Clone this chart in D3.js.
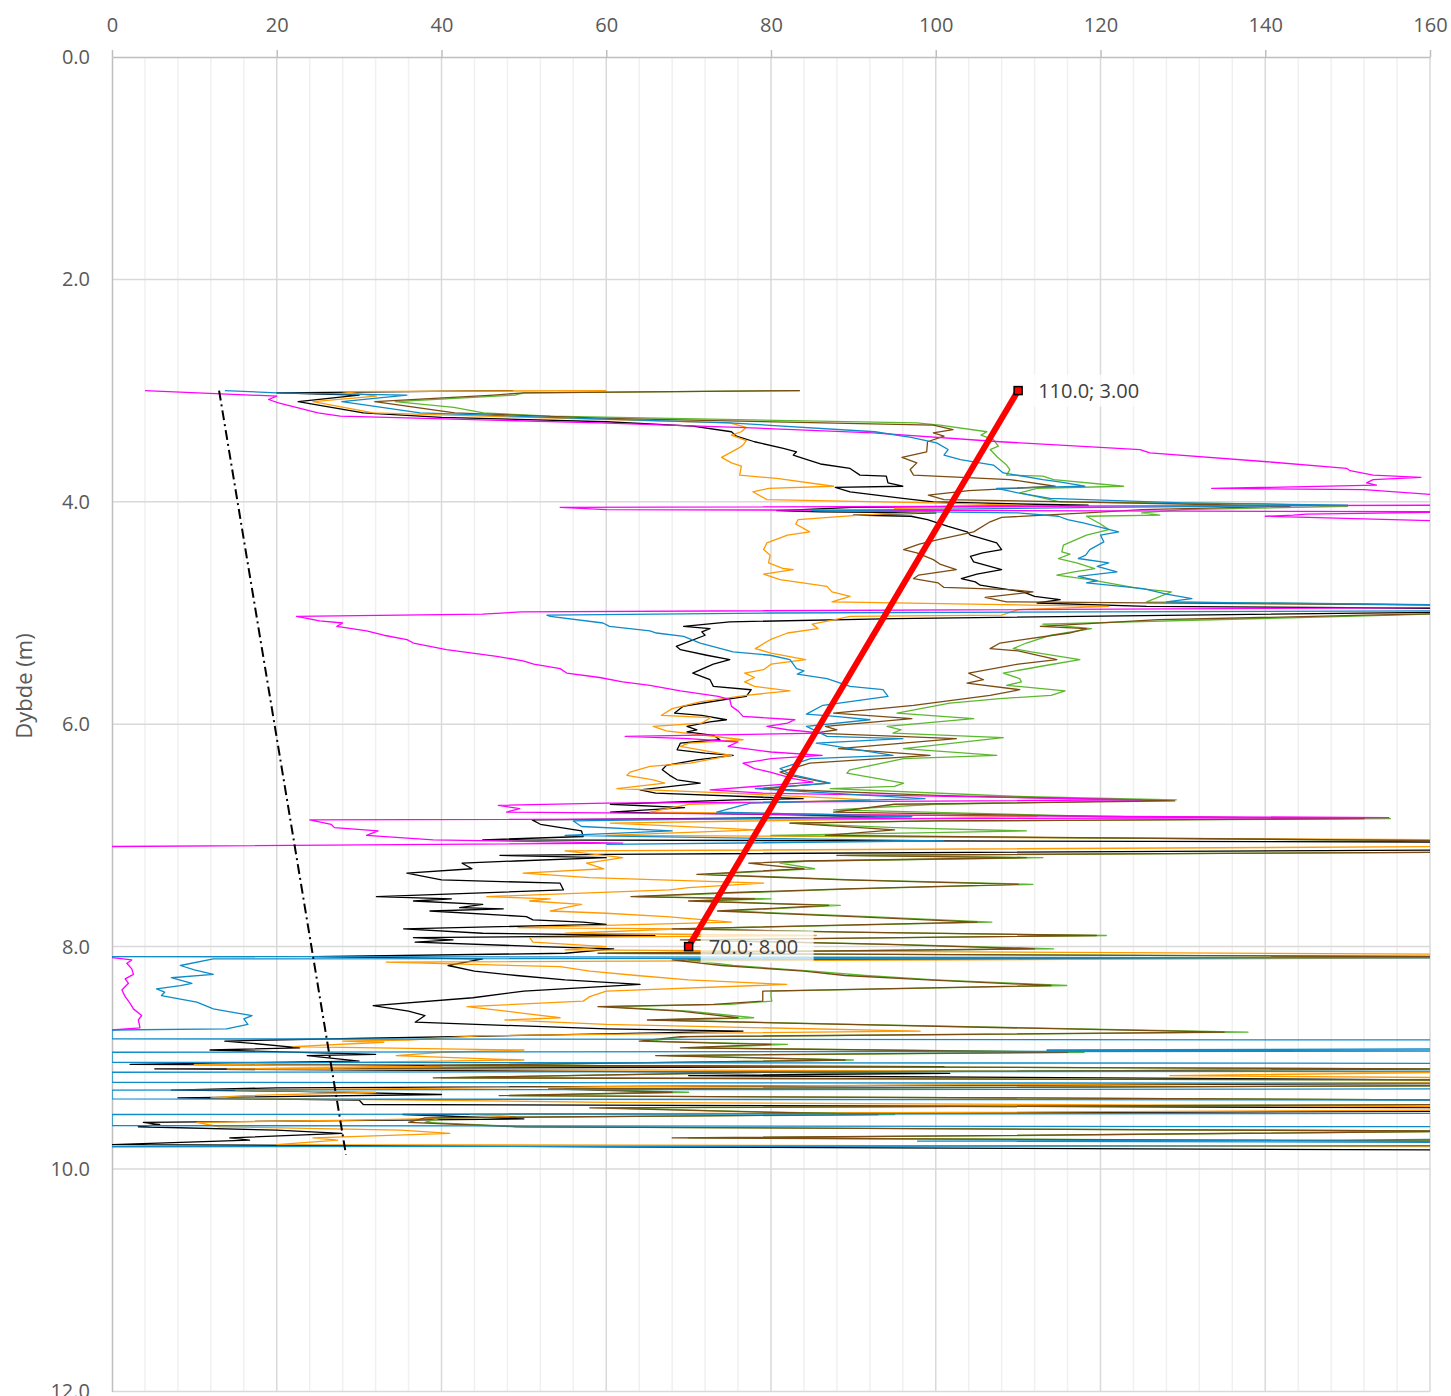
<!DOCTYPE html>
<html><head><meta charset="utf-8">
<script src="https://cdn.jsdelivr.net/npm/d3@7"></script>
<style>body{margin:0;background:#fff;} svg{display:block;font-family:"Open Sans",sans-serif;}</style>
</head><body><svg id="chart" width="1451" height="1396"></svg>
<script>
// ---- tick values ----
const xTicks = [0,20,40,60,80,100,120,140,160];
const yTicks = [0,2,4,6,8,10,12];
const yTitle = "Dybde (m)";

// ---- series: [depth (m), value] ; null = gap ----
const seriesBlack = [[3.00,48.7],[3.02,20],[3.04,30],[3.10,22.6],[3.20,30.5],[3.24,40],[3.28,60],[3.32,70.5],[3.37,75.2],[3.41,75.8],[3.46,78],[3.52,81.5],[3.55,83.1],[3.58,82.7],[3.61,83.9],[3.66,86],[3.70,89.6],[3.76,90.8],[3.77,94],[3.83,94.2],[3.86,96.0],[3.87,87.8],[3.91,89.6],[3.97,96],[4.00,99.7],[4.02,110],[4.03,118.5],[4.05,90],[4.08,80.7],[4.09,86],[4.10,100],[4.12,90],[4.13,97],[4.16,99],[4.22,101.5],[4.27,103.8],[4.30,104.2],[4.37,107.4],[4.43,108],[4.46,105.7],[4.49,104.2],[4.54,104.6],[4.61,108],[4.65,105],[4.69,103.1],[4.72,104.8],[4.75,105.4],[4.81,110.6],[4.85,112],[4.88,115.1],[4.91,112.3],[4.94,125.6],[4.96,165],[4.99,165],[5.05,95],[5.08,75],[5.12,69.4],[5.14,72.6],[5.17,71.6],[5.20,72],[5.30,68.5],[5.33,69],[5.38,72.2],[5.42,75.0],[5.46,73],[5.54,70.5],[5.60,72.6],[5.66,73],[5.69,77.6],[5.75,77],[5.78,74.2],[5.84,69.3],[5.90,68.3],[5.92,71.6],[5.96,74.6],[5.98,72.6],[6.02,69.8],[6.05,71],[6.07,69.8],[6.10,73],[6.14,73.8],[6.16,70.5],[6.17,69],[6.23,68.6],[6.26,72],[6.28,75.4],[6.32,71],[6.37,67.3],[6.41,66.8],[6.46,67.7],[6.50,68.6],[6.53,71.4],[6.59,64.1],[6.62,66],[6.67,83.9],[6.68,75.8],[6.72,60.5],[6.75,69.5],[6.79,60.5],[6.83,97],[6.86,51],[6.90,52],[6.96,57],[7.01,57.2],[7.04,45],[7.06,165],[7.13,165],[7.17,60],[7.18,47.1],[7.20,60],[7.23,49],[7.25,42.5],[7.30,43.7],[7.34,35.8],[7.40,40],[7.43,54.4],[7.49,54.8],[7.55,32.1],[7.57,41.2],[7.59,36.6],[7.62,45],[7.65,42.2],[7.66,47.5],[7.68,38.6],[7.73,50.3],[7.76,51.1],[7.78,57.2],[7.80,60],[7.84,35.4],[7.88,45],[7.90,65.9],[7.92,36.6],[7.94,41.4],[7.96,36.8],[8.00,52],[8.02,60.9],[8.06,55],[8.09,24.4],[8.11,45],[8.17,40.8],[8.22,44],[8.26,49.1],[8.30,55],[8.34,64.1],[8.40,50],[8.46,43.8],[8.53,31.7],[8.58,36],[8.62,38],[8.68,36.8],[8.74,60],[8.76,76.6],[8.79,56.6],[8.84,19],[8.85,13.7],[8.87,17],[8.91,22.8],[8.93,11.9],[8.97,32],[8.98,23.7],[9.03,30],[9.06,2.2],[9.08,101],[9.10,5.2],[9.14,101.7],[9.16,70],[9.20,165],[9.23,165],[9.27,20],[9.29,7.2],[9.30,21.2],[9.33,40],[9.36,8.0],[9.38,30],[9.42,30.5],[9.45,165],[9.48,165],[9.51,35.3],[9.55,50],[9.58,3.8],[9.60,5.8],[9.62,3.2],[9.65,20],[9.68,27.9],[9.72,14.3],[9.74,16.7],[9.78,0],[9.80,60],[9.83,165],[9.85,165]];

const seriesOrange = [[3.00,60],[3.01,28],[3.05,32.1],[3.10,24.4],[3.20,31.7],[3.25,55],[3.29,75],[3.33,77],[3.37,76.4],[3.40,75.2],[3.45,77],[3.49,76.6],[3.52,76],[3.60,74],[3.65,75.2],[3.68,76.4],[3.76,76.2],[3.79,80.7],[3.86,87.6],[3.88,79.7],[3.91,77.8],[3.98,79.5],[4.01,99.7],[4.04,115],[4.06,95],[4.09,100],[4.12,90.8],[4.16,83.3],[4.20,83],[4.27,84.7],[4.30,82],[4.37,79.5],[4.43,79.1],[4.48,79.9],[4.55,79.7],[4.60,81.5],[4.61,82.7],[4.65,79.1],[4.70,81.1],[4.76,86.8],[4.81,87.4],[4.85,89.6],[4.90,87.4],[4.94,121],[4.97,110],[5.02,108],[5.03,89.6],[5.07,87],[5.10,85],[5.14,85.7],[5.18,82],[5.24,79.9],[5.32,78.1],[5.36,80],[5.42,84.2],[5.46,80],[5.51,79.1],[5.54,76.8],[5.58,78],[5.62,76.8],[5.66,78],[5.70,82.3],[5.74,77],[5.80,71.4],[5.86,68],[5.92,66.7],[5.94,72.7],[5.99,71.6],[6.02,65.7],[6.06,67.3],[6.14,76.6],[6.17,70],[6.20,69],[6.28,75.2],[6.35,70.2],[6.38,65.3],[6.43,62.9],[6.46,62.5],[6.50,65.7],[6.53,67.1],[6.58,61.3],[6.62,75],[6.68,92],[6.72,70],[6.79,65.3],[6.83,112.3],[6.89,60.5],[6.95,78.3],[7.00,60],[7.04,165],[7.10,165],[7.14,55],[7.20,62],[7.25,57.6],[7.30,59.7],[7.34,49.9],[7.38,58],[7.43,79.1],[7.47,70],[7.49,67.7],[7.55,45.5],[7.57,53.2],[7.59,50.7],[7.62,57],[7.65,55],[7.68,53.2],[7.70,60],[7.73,67.3],[7.78,75.2],[7.83,49.3],[7.84,69.2],[7.88,55],[7.90,85.5],[7.92,50.7],[7.96,51.1],[8.00,60],[8.03,55],[8.07,165],[8.10,165],[8.14,33.3],[8.18,54.4],[8.22,58],[8.26,63.7],[8.30,70],[8.34,81.9],[8.40,60],[8.45,58],[8.49,57.2],[8.54,43.1],[8.60,50],[8.64,54.4],[8.66,47.7],[8.70,60],[8.76,98.1],[8.80,45],[8.84,36],[8.85,28],[8.86,33],[8.90,22],[8.93,50],[8.95,40],[8.98,34.5],[9.02,50],[9.06,10],[9.08,40],[9.10,14],[9.13,165],[9.16,128.4],[9.18,165],[9.22,165],[9.26,60],[9.29,15],[9.31,32],[9.34,16],[9.36,12],[9.40,60],[9.44,165],[9.47,165],[9.51,43.5],[9.53,49],[9.56,30],[9.58,10.3],[9.62,13],[9.65,35],[9.68,41],[9.72,24.4],[9.74,27.4],[9.78,20],[9.80,165],[9.85,165]];

const seriesGreen = [[3.00,83.5],[3.02,50],[3.04,48.9],[3.10,34.4],[3.15,41.5],[3.20,45.1],[3.23,53.2],[3.29,97.7],[3.31,100.5],[3.37,106.2],[3.40,105.5],[3.44,107],[3.50,107.6],[3.53,106.6],[3.60,107.5],[3.67,108.6],[3.71,109],[3.76,108.6],[3.77,113],[3.80,114.3],[3.86,122.8],[3.88,112.3],[3.92,110.2],[4.00,115.1],[4.02,140],[4.04,150],[4.07,130],[4.10,125],[4.12,127.2],[4.13,118.3],[4.20,120],[4.25,121],[4.30,118.3],[4.39,115.5],[4.45,115.3],[4.47,116.3],[4.51,114.9],[4.55,117.1],[4.60,119.3],[4.63,116.8],[4.66,114.7],[4.70,118.7],[4.78,124.8],[4.81,128.6],[4.90,125.6],[4.93,165],[5.00,165],[5.03,150],[5.10,113],[5.14,118.9],[5.20,114],[5.27,111],[5.32,109.4],[5.35,111.6],[5.42,117.5],[5.47,113.5],[5.54,108.2],[5.59,110.2],[5.62,110.4],[5.65,108.6],[5.70,115.7],[5.74,114],[5.77,107.8],[5.81,101.7],[5.90,95.3],[5.95,104.6],[6.02,94.1],[6.05,95.8],[6.08,94.8],[6.12,108.2],[6.22,96.1],[6.28,107.4],[6.31,96.1],[6.41,89.6],[6.44,89.2],[6.53,96.1],[6.56,95],[6.58,87.2],[6.65,110],[6.68,129.2],[6.72,100],[6.77,87.6],[6.83,120],[6.85,155.2],[6.87,100],[6.89,82.3],[6.93,95],[6.96,111],[7.00,80],[7.05,165],[7.15,165],[7.18,89],[7.20,113],[7.23,85],[7.25,81.1],[7.30,85.3],[7.35,72.2],[7.40,90],[7.44,111.8],[7.48,90],[7.52,75],[7.55,63.7],[7.57,80],[7.59,71],[7.63,88.4],[7.68,74.6],[7.73,92],[7.78,106.8],[7.84,69],[7.87,90],[7.90,120.7],[7.94,70],[7.98,95],[8.02,114.3],[8.06,60],[8.09,165],[8.12,70],[8.17,75.4],[8.22,85],[8.26,91.4],[8.30,100],[8.35,115.9],[8.40,80],[8.45,80],[8.49,80.1],[8.52,75],[8.54,60],[8.58,70],[8.64,77.9],[8.66,66.1],[8.70,90],[8.77,137.9],[8.81,70],[8.85,65],[8.88,82],[8.91,70],[8.95,118],[8.98,67.5],[9.02,90],[9.07,40],[9.10,165],[9.13,80],[9.18,40],[9.20,165],[9.25,165],[9.28,55],[9.31,70],[9.34,48],[9.38,165],[9.42,165],[9.45,60],[9.48,75],[9.51,95],[9.54,40],[9.58,38],[9.62,50],[9.66,165],[9.70,108],[9.72,70],[9.75,165],[9.80,165],[9.83,165]];

const seriesBrown = [[3.00,83.5],[3.02,50],[3.04,46.3],[3.10,31.9],[3.20,41.6],[3.25,60],[3.31,99.7],[3.35,102.1],[3.38,99.7],[3.41,101],[3.46,99],[3.55,98.9],[3.60,95.9],[3.65,97.7],[3.71,96.9],[3.76,97.3],[3.80,109],[3.86,114.5],[3.90,104],[3.94,99.1],[3.98,101],[4.02,130],[4.04,143],[4.07,125],[4.10,118.3],[4.14,108],[4.18,106.6],[4.27,104.6],[4.34,100.3],[4.38,98],[4.43,96.1],[4.46,97.7],[4.52,99.7],[4.56,100.5],[4.61,102.5],[4.66,97.9],[4.69,97.3],[4.73,100.3],[4.77,101],[4.79,109],[4.81,111.8],[4.86,106],[4.90,108.6],[4.93,165],[5.00,165],[5.02,152.3],[5.06,127],[5.12,112.7],[5.14,118.3],[5.18,116.2],[5.27,107.8],[5.32,106.6],[5.34,110],[5.42,114.7],[5.46,110],[5.54,104],[5.60,105.8],[5.63,103.8],[5.69,110.2],[5.74,106.6],[5.83,97.3],[5.90,87.6],[5.95,97.1],[6.02,86.6],[6.05,88],[6.08,85.3],[6.13,102.5],[6.22,88.2],[6.28,99.3],[6.35,84.7],[6.43,81.1],[6.46,82.3],[6.53,87],[6.58,78.7],[6.64,100],[6.69,129],[6.72,95],[6.79,87.6],[6.83,120],[6.85,152],[6.87,100],[6.89,82.3],[6.95,95],[7.00,86.6],[7.05,165],[7.15,165],[7.18,88],[7.20,111],[7.23,84],[7.25,77.3],[7.30,84],[7.35,71],[7.40,89],[7.44,110],[7.48,89],[7.52,73],[7.55,63],[7.57,78],[7.59,70],[7.63,87],[7.68,73.5],[7.73,90],[7.78,105],[7.84,68],[7.87,89],[7.90,119.5],[7.94,69],[7.98,94],[8.02,112],[8.06,59],[8.09,165],[8.12,68],[8.17,74],[8.22,84],[8.26,89],[8.30,99],[8.35,114],[8.40,79],[8.45,79],[8.49,79],[8.52,73],[8.54,59],[8.58,69],[8.64,76],[8.66,65],[8.70,89],[8.77,135],[8.81,69],[8.85,64],[8.88,80],[8.91,69],[8.95,116],[8.98,66],[9.02,89],[9.07,38],[9.10,165],[9.13,79],[9.18,39],[9.20,165],[9.25,165],[9.28,53],[9.31,68],[9.34,47],[9.38,165],[9.42,165],[9.45,58],[9.48,74],[9.51,93],[9.54,38],[9.58,36],[9.62,49],[9.66,165],[9.70,106],[9.72,68],[9.75,165],[9.80,165],[9.83,165]];

const seriesMagenta = [[3.00,4.0],[3.05,20.0],[3.08,19.0],[3.11,20.2],[3.20,25.0],[3.23,27.7],[3.29,59.2],[3.33,76],[3.38,92.4],[3.46,107.8],[3.53,124.8],[3.56,126],[3.64,140.2],[3.70,149.9],[3.72,150.3],[3.76,153.1],[3.78,158.9],[3.80,153.1],[3.83,152.3],[3.85,153.5],[3.88,133.5],[3.89,152],[3.96,165],[4.03,165],[4.05,54.4],[4.07,60],[4.09,165],[4.11,145],[4.12,143.4],[4.13,140],[4.18,165],[4.95,165],[4.99,49.7],[5.01,45],[5.03,22.4],[5.07,25.2],[5.09,28],[5.12,27.3],[5.16,30.9],[5.20,33],[5.24,35.8],[5.27,36.6],[5.33,40.6],[5.39,46.7],[5.43,49.9],[5.46,51.2],[5.50,54.4],[5.54,55.2],[5.58,59.2],[5.62,62],[5.65,65.3],[5.70,69],[5.75,73.6],[5.78,75],[5.84,75.2],[5.88,76],[5.93,76.6],[5.96,82.9],[5.99,82],[6.02,79.5],[6.05,82],[6.08,86.3],[6.11,62.3],[6.13,70],[6.16,76],[6.20,74.8],[6.25,80],[6.28,86.2],[6.31,80],[6.35,76.6],[6.40,78],[6.43,79.9],[6.49,82.7],[6.52,85.1],[6.59,72.6],[6.62,79],[6.68,125],[6.71,60],[6.73,46.9],[6.76,49.5],[6.79,47.9],[6.82,100],[6.84,155],[6.86,24.0],[6.90,26.6],[6.93,27],[6.96,32.3],[7.00,30.9],[7.04,39.0],[7.07,62],[7.10,0],null,[8.10,0],[8.12,2.4],[8.15,1.8],[8.20,2.4],[8.25,2.6],[8.29,1.6],[8.33,2.0],[8.39,1.2],[8.45,1.6],[8.51,2.2],[8.56,2.6],[8.62,3.6],[8.66,3.2],[8.73,3.4],[8.75,0]];

const seriesBlue = [[3.00,13.7],[3.02,20],[3.04,35.8],[3.10,27.9],[3.20,37.4],[3.24,53],[3.29,75],[3.37,92.6],[3.42,97],[3.47,100.1],[3.53,101.5],[3.58,101],[3.62,103],[3.67,107],[3.74,108.2],[3.80,113],[3.82,115],[3.86,118.1],[3.88,107.4],[3.92,110],[3.97,113.9],[4.01,130],[4.03,150],[4.05,120],[4.08,85],[4.10,110],[4.13,114.9],[4.16,116],[4.19,117.9],[4.27,122.2],[4.30,120],[4.36,120.4],[4.43,118.7],[4.48,118.2],[4.51,117.3],[4.55,121],[4.58,119.6],[4.63,122],[4.67,117.3],[4.71,119.6],[4.73,118.3],[4.78,125.2],[4.83,128],[4.87,131.1],[4.90,128],[4.93,165],[4.98,165],[5.00,80],[5.02,52.8],[5.03,53.2],[5.09,59.6],[5.12,60.4],[5.16,65.3],[5.18,66.1],[5.21,69.4],[5.27,71.4],[5.35,75.4],[5.38,79.9],[5.42,82.3],[5.50,83.1],[5.52,84],[5.55,83.2],[5.59,86.8],[5.66,89.6],[5.69,93.6],[5.75,94.2],[5.83,86.3],[5.91,84.3],[5.93,87.8],[5.96,92],[6.02,84.3],[6.08,86],[6.11,86.8],[6.13,96],[6.17,85.5],[6.28,94.8],[6.31,84.8],[6.40,81.1],[6.45,82.3],[6.53,87.2],[6.58,78.1],[6.67,98.7],[6.71,77.5],[6.79,73.4],[6.83,97.1],[6.87,56],[6.92,57],[6.96,68],[7.00,55],[7.05,101],[7.08,60],null,[8.09,0],[8.10,165],[8.11,12.3],[8.17,8.3],[8.21,10],[8.25,12.3],[8.28,7.2],[8.33,9.7],[8.35,8.3],[8.38,5.4],[8.41,6.4],[8.44,6.0],[8.50,10.3],[8.56,12.3],[8.59,14.5],[8.62,17.0],[8.65,16],[8.70,16.5],[8.74,13.9],[8.75,0],[8.83,0],[8.84,165],[8.92,165],[8.93,113.5],[8.94,165],[8.95,0],[9.04,0],[9.05,165],[9.12,165],[9.13,0],[9.22,0],[9.23,165],[9.28,165],[9.29,0],[9.37,0],[9.38,165],[9.50,165],[9.51,0],[9.61,0],[9.62,165],[9.73,165],[9.74,149.5],[9.75,97.8],[9.76,165],[9.79,165],[9.80,0]];

const redPoints = [[110.0,3.00],[70.0,8.00]];
const dashDotLine = [[13.0,3.00],[28.4,9.87]];

// ---- layout ----
const x = d3.scaleLinear().domain([0,160]).range([112,1430]);
const y = d3.scaleLinear().domain([0,12]).range([57,1391.4]);
const svg = d3.select("#chart");

svg.append("defs").append("clipPath").attr("id","plotclip")
  .append("rect").attr("x",112).attr("y",57).attr("width",1318).attr("height",1334.4);

// gridlines
const minorX = d3.range(0,161,4).filter(v => v % 20 !== 0);
svg.append("g").selectAll("line").data(minorX).join("line")
  .attr("x1",d=>x(d)).attr("x2",d=>x(d)).attr("y1",57).attr("y2",1391.4)
  .attr("stroke","#f0f0f0").attr("stroke-width",1.5);
svg.append("g").selectAll("line").data(xTicks.slice(1)).join("line")
  .attr("x1",d=>x(d)).attr("x2",d=>x(d)).attr("y1",57).attr("y2",1391.4)
  .attr("stroke","#d9d9d9").attr("stroke-width",1.5);
svg.append("g").selectAll("line").data(yTicks.slice(1)).join("line")
  .attr("x1",112).attr("x2",1430).attr("y1",d=>y(d)).attr("y2",d=>y(d))
  .attr("stroke","#d9d9d9").attr("stroke-width",1.5);

// axes
const xAxis = svg.append("g").attr("transform","translate(0,57)")
  .call(d3.axisTop(x).tickValues(xTicks).tickSize(7).tickSizeOuter(0).tickPadding(18).tickFormat(d3.format("d")));
xAxis.select(".domain").attr("stroke","#bfbfbf").attr("stroke-width",1.5);
xAxis.selectAll(".tick line").attr("stroke","#bfbfbf").attr("stroke-width",1.5);
xAxis.selectAll("text").attr("fill","#595959").style("font-size","20px").style("font-family","'Open Sans',sans-serif");

const yAxis = svg.append("g").attr("transform","translate(112,0)")
  .call(d3.axisLeft(y).tickValues(yTicks).tickSize(0).tickSizeOuter(0).tickPadding(22).tickFormat(d3.format(".1f")));
yAxis.select(".domain").attr("stroke","#bfbfbf").attr("stroke-width",1.5);
yAxis.selectAll("text").attr("fill","#595959").style("font-size","20px").style("font-family","'Open Sans',sans-serif");

svg.append("text").attr("transform","translate(32,686) rotate(-90)")
  .attr("text-anchor","middle").attr("fill","#595959")
  .style("font-size","22px").text(yTitle);

// data lines
const line = d3.line().defined(d => d !== null).x(d => x(d[1])).y(d => y(d[0]));
const plot = svg.append("g").attr("clip-path","url(#plotclip)");
const seriesList = [
  {data: seriesBlack, color:"#000000"},
  {data: seriesOrange, color:"#ff9a00"},
  {data: seriesGreen, color:"#5cb82e"},
  {data: seriesBrown, color:"#7a4b12"},
  {data: seriesMagenta, color:"#ff00ff"},
  {data: seriesBlue, color:"#0e8bc8"}
];
seriesList.forEach(s => {
  plot.append("path").datum(s.data).attr("d", line)
    .attr("fill","none").attr("stroke", s.color).attr("stroke-width",1.3)
    .attr("stroke-linejoin","round");
});

// dash-dot line
const line2 = d3.line().x(d => x(d[0])).y(d => y(d[1]));
plot.append("path").datum(dashDotLine).attr("d", line2)
  .attr("fill","none").attr("stroke","#000").attr("stroke-width",2)
  .attr("stroke-dasharray","10,4,2,4");

// red line
plot.append("path").datum(redPoints).attr("d", line2)
  .attr("fill","none").attr("stroke","#ff0000").attr("stroke-width",6);
svg.append("g").selectAll("rect").data(redPoints).join("rect")
  .attr("x", d => x(d[0]) - 4).attr("y", d => y(d[1]) - 4)
  .attr("width",8).attr("height",8)
  .attr("fill","#ff0000").attr("stroke","#000").attr("stroke-width",1.5);

const lab = svg.append("g").selectAll("g").data(redPoints).join("g")
  .attr("transform", d => `translate(${x(d[0]) + 20},${y(d[1])})`);
lab.append("rect").attr("x",-8).attr("y",-16).attr("height",32)
  .attr("width", d => d[0] >= 100 ? 118 : 113)
  .attr("fill","#ffffff").attr("fill-opacity",0.75);
lab.append("text").attr("dy","0.35em").attr("fill","#404040")
  .style("font-size","20px")
  .text(d => `${d[0].toFixed(1)}; ${d[1].toFixed(2)}`);
</script></body></html>
